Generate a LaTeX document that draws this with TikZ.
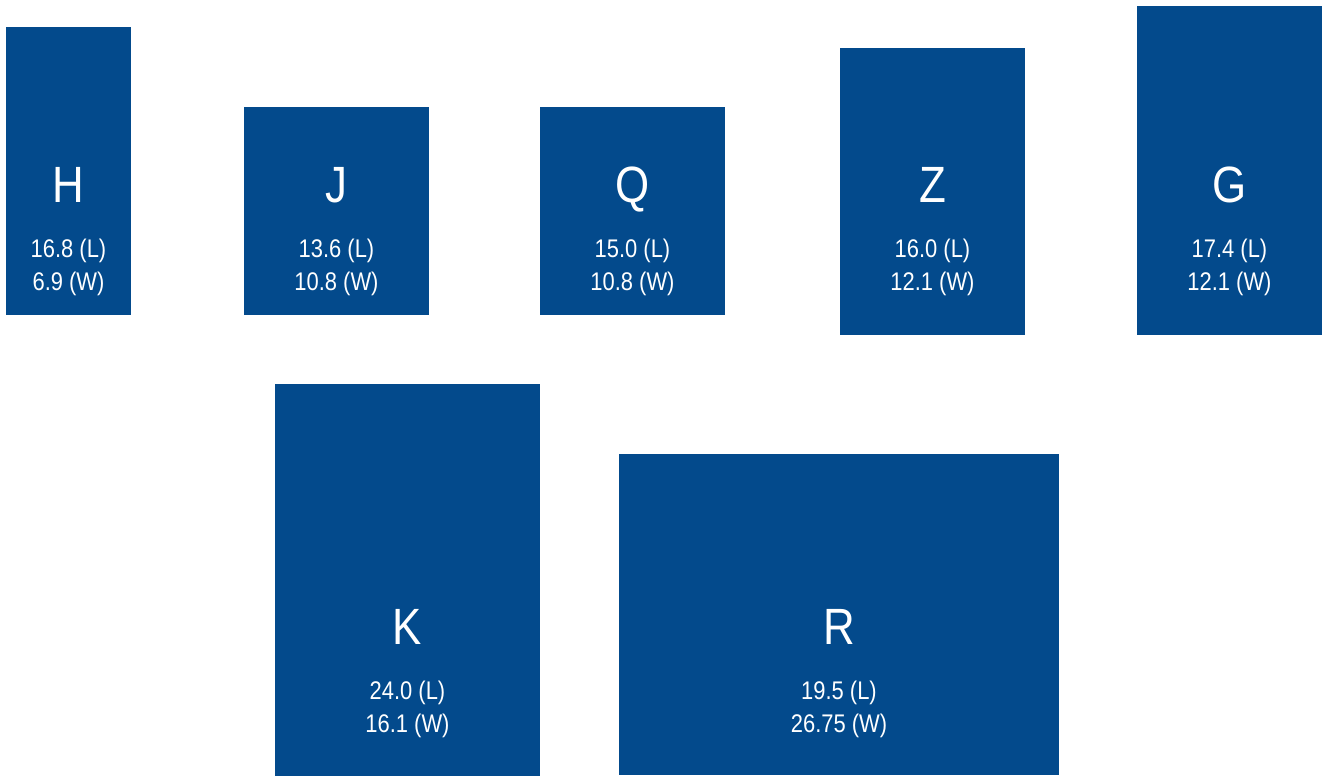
\documentclass[tikz,border=0pt]{standalone}
\usepackage{fontspec}
\setmainfont{Liberation Sans}[FakeStretch=0.86]
\definecolor{boxblue}{HTML}{034A8C}
\begin{document}
\begin{tikzpicture}[x=1pt,y=-1pt,
  roombox/.style={fill=boxblue,draw=none},
  bigletter/.style={text=white,font=\fontsize{51}{51}\selectfont,anchor=base,inner sep=0pt},
  dims/.style={text=white,font=\fontsize{25.5}{33}\selectfont,anchor=base,inner sep=0pt,align=center}]
\useasboundingbox (0,0) rectangle (1327,776);
% boxes
\path[roombox] (6,27) rectangle (131,315);
\path[roombox] (244,107) rectangle (429,315);
\path[roombox] (540,107) rectangle (725,315);
\path[roombox] (840,48) rectangle (1025,335);
\path[roombox] (1137,6) rectangle (1322,335);
\path[roombox] (275,384) rectangle (540,776);
\path[roombox] (619,454) rectangle (1059,775);
% labels
\node[bigletter] (Hl) at (68.5,202) {H};
\node[dims] (Hd1) at (68.5,257) {16.8 (L)};
\node[dims] (Hd2) at (68.5,290) {6.9 (W)};
\node[bigletter] (Jl) at (336.5,202) {J};
\node[dims] (Jd1) at (336.5,257) {13.6 (L)};
\node[dims] (Jd2) at (336.5,290) {10.8 (W)};
\node[bigletter] (Ql) at (632.5,202) {Q};
\node[dims] (Qd1) at (632.5,257) {15.0 (L)};
\node[dims] (Qd2) at (632.5,290) {10.8 (W)};
\node[bigletter] (Zl) at (932.5,202) {Z};
\node[dims] (Zd1) at (932.5,257) {16.0 (L)};
\node[dims] (Zd2) at (932.5,290) {12.1 (W)};
\node[bigletter] (Gl) at (1229.5,202) {G};
\node[dims] (Gd1) at (1229.5,257) {17.4 (L)};
\node[dims] (Gd2) at (1229.5,290) {12.1 (W)};
\node[bigletter] (Kl) at (407.5,644) {K};
\node[dims] (Kd1) at (407.5,699) {24.0 (L)};
\node[dims] (Kd2) at (407.5,732) {16.1 (W)};
\node[bigletter] (Rl) at (839,644) {R};
\node[dims] (Rd1) at (839,699) {19.5 (L)};
\node[dims] (Rd2) at (839,732) {26.75 (W)};
\end{tikzpicture}
\end{document}
